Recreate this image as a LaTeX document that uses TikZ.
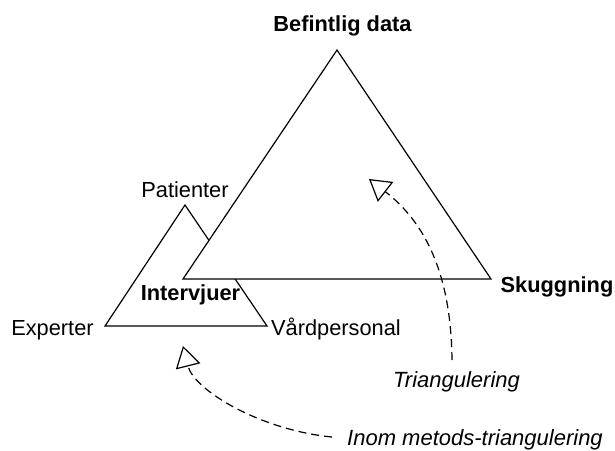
\documentclass[tikz,border=0pt]{standalone}
\usepackage{fontspec}
\setmainfont{Liberation Sans}
\usetikzlibrary{arrows.meta}
\begin{document}
\begin{tikzpicture}[x=1pt, y=-1pt, line width=1.2pt, line join=miter,
    lbl/.style={font=\fontsize{21.8}{26}\selectfont, anchor=base, inner sep=0pt},
    boldlbl/.style={lbl, font=\fontsize{21.8}{26}\selectfont\bfseries},
    notelbl/.style={lbl, font=\fontsize{22}{26}\selectfont\itshape},
    tri/.style={draw=black, fill=white},
    hint/.style={draw=black, dash pattern=on 8pt off 5pt,
      -{Triangle[open, fill=white, length=21pt, width=25pt, line width=1.2pt]}}]
  \useasboundingbox (0,0) rectangle (615,450);

  % method triangle (interviews)
  \path[tri] (185,205) coordinate (pt) -- (105,326) coordinate (ex)
    -- (267,326) coordinate (vp) -- cycle;
  % outer triangle drawn on top
  \path[tri] (337,50) coordinate (bd) -- (183,279) coordinate (iv)
    -- (491,279) coordinate (sk) -- cycle;

  % vertex labels
  \node[boldlbl] (befintlig) at (342.5,31) {Befintlig data};
  \node[boldlbl] (skuggning) at (557,292) {Skuggning};
  \node[boldlbl] (intervjuer) at (190.5,300) {Intervjuer};
  \node[lbl] (patienter) at (185,197) {Patienter};
  \node[lbl] (experter) at (52.5,335) {Experter};
  \node[lbl] (vardpers) at (336,335) {Vårdpersonal};

  % annotations
  \node[notelbl] (triang) at (456.5,387) {Triangulering};
  \node[notelbl] (inom) at (475,445) {Inom metods-triangulering};

  \coordinate (t1) at (369,179);
  \coordinate (s1) at (452,360);
  \coordinate (t2) at (183,346);
  \coordinate (s2) at (332,437);

  \draw[hint] (s1) .. controls (451,270) and (423,221) .. (t1);
  \draw[hint] (s2) .. controls (260,430) and (194,390) .. (t2);
\end{tikzpicture}
\end{document}
